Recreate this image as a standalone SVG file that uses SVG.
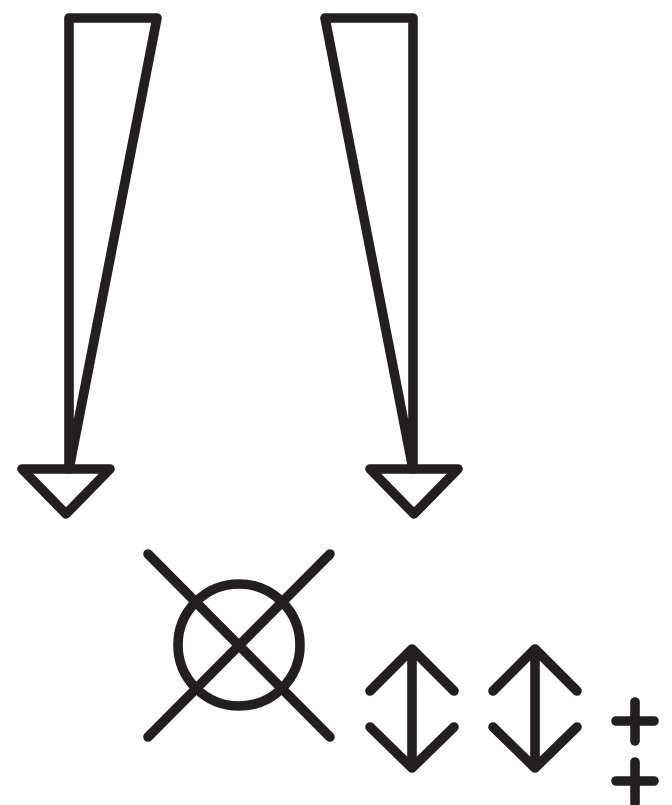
<svg xmlns="http://www.w3.org/2000/svg" width="672" height="805" viewBox="0 0 672 805">
<style>
.s{fill:none;stroke:#231f20;stroke-width:9.6;stroke-linecap:round;stroke-linejoin:round}
</style>
<rect width="672" height="805" fill="#fff"/>
<g id="wedge-left" class="s"><path d="M69 469V18H157L69 469"/><path d="M22 469H110L66 514Z"/></g>
<g id="wedge-right" class="s"><path d="M413 469V18H325L413 469"/><path d="M370 469H458L414 514Z"/></g>
<g id="crossed-circle" class="s"><circle cx="239" cy="645" r="61"/><path d="M148 554L330 737M330 554L148 737"/></g>
<g id="double-arrow-1" class="s"><path d="M412 650V768M370 691L412 649L454 691M370 727L412 768L454 727"/></g>
<g id="double-arrow-2" class="s"><path d="M535 650V768M493 691L535 649L577 691M493 727L535 768L577 727"/></g>
<g id="plus-1" class="s"><path d="M616 721H654M635 702V741"/></g>
<g id="plus-2" class="s"><path d="M616 781H654M635 762V803"/></g>
</svg>
